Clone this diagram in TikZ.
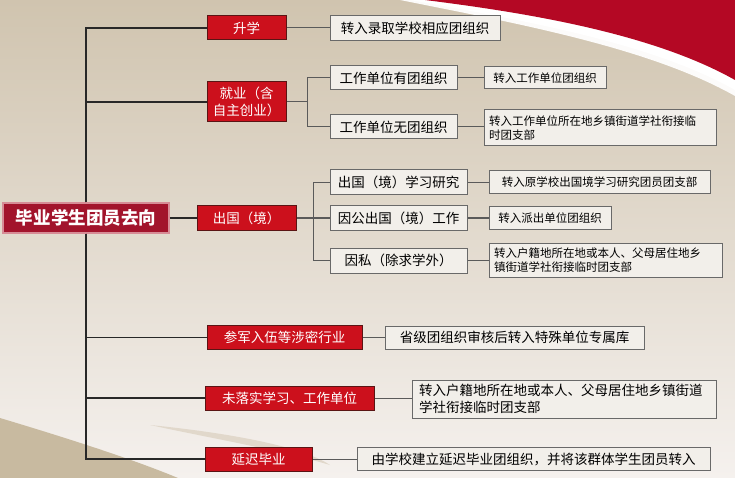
\documentclass[tikz,border=0pt]{standalone}
\usepackage{fontspec}
\newfontfamily\cjk{Noto Sans CJK SC}
\definecolor{bgtop}{RGB}{208,196,175}
\definecolor{bgmid}{RGB}{236,231,223}
\definecolor{bgbot}{RGB}{245,241,238}
\definecolor{swred}{RGB}{180,8,36}
\definecolor{boxred}{RGB}{204,16,28}
\definecolor{rootred}{RGB}{162,20,44}
\definecolor{boxgray}{RGB}{242,239,234}
\definecolor{swbeige}{RGB}{200,186,160}
\tikzset{
  base/.style={inner sep=0pt,font=\cjk\fontsize{13.5}{16.5}\selectfont},
  rootbox/.style={base,fill=rootred,draw={rgb,255:red,214;green,140;blue,150},line width=1.2pt,text=white,
    minimum width=166,minimum height=30,font=\cjk\bfseries\fontsize{17.5}{20}\selectfont},
  redbox/.style={base,fill=boxred,draw={rgb,255:red,90;green,20;blue,20},line width=1pt,text=white,minimum height=24},
  graybox/.style={base,fill=boxgray,draw={rgb,255:red,105;green,105;blue,105},line width=1pt,minimum height=24},
  smallbox/.style={graybox,font=\cjk\fontsize{11.5}{14}\selectfont,minimum height=22},
  trunk/.style={draw={rgb,255:red,40;green,40;blue,40},line width=1.3pt},
  twig/.style={draw={rgb,255:red,90;green,90;blue,90},line width=1pt}
}
\begin{document}
\begin{tikzpicture}[x=1pt,y=-1pt]
\useasboundingbox (0,0) rectangle (735,478);
% background
\shade[top color=bgtop,middle color=bgmid,bottom color=bgbot] (0,0) rectangle (735,478);
\fill[white!85!bgmid] (400,0) .. controls (520,24) and (650,48) .. (735,96) -- (735,0) -- cycle;
\fill[white] (410,0) .. controls (520,20) and (650,42) .. (735,90) -- (735,0) -- cycle;
\fill[swred] (425,0) .. controls (520,12) and (650,32) .. (735,80) -- (735,0) -- cycle;
\fill[swbeige] (0,418) .. controls (60,436) and (130,458) .. (178,478) -- (0,478) -- cycle;
\fill[swbeige!45!bgbot] (150,425) .. controls (220,432) and (300,445) .. (330,465) .. controls (280,450) and (210,438) .. (150,425) -- cycle;
% level 1
\node[rootbox] (root) at (86,218) {毕业学生团员去向};
\node[redbox,minimum width=79] (shengxue) at (246.5,28) {升学};
\node[redbox,minimum width=79,minimum height=40,align=center] (jiuye) at (246.5,102) {就业（含\\自主创业）};
\node[redbox,minimum width=99,minimum height=25] (chuguo) at (246.5,218) {出国（境）};
\node[redbox,minimum width=155] (canjun) at (284.5,337.5) {参军入伍等涉密行业};
\node[redbox,minimum width=169] (weiluoshi) at (289.5,398) {未落实学习、工作单位};
\node[redbox,minimum width=107] (yanchi) at (258.5,459) {延迟毕业};
% level 2
\node[graybox,minimum width=170,minimum height=25] (luqu) at (415,28) {转入录取学校相应团组织};
\node[graybox,minimum width=127] (youtuan) at (393.5,78) {工作单位有团组织};
\node[graybox,minimum width=127] (wutuan) at (393.5,127) {工作单位无团组织};
\node[graybox,minimum width=137,minimum height=25] (xuexi) at (398.5,182.5) {出国（境）学习研究};
\node[graybox,minimum width=137] (yingong) at (398.5,218) {因公出国（境）工作};
\node[graybox,minimum width=137,minimum height=25] (yinsi) at (398.5,260.5) {因私（除求学外）};
\node[graybox,minimum width=259,minimum height=23] (shengji) at (514.5,337.5) {省级团组织审核后转入特殊单位专属库};
\node[graybox,minimum width=304,minimum height=38,text width=290,align=left] (hujidi) at (564,399) {转入户籍地所在地或本人、父母居住地乡镇街道\\学社衔接临时团支部};
\node[graybox,minimum width=353,minimum height=23] (jianli) at (533.5,459) {由学校建立延迟毕业团组织，并将该群体学生团员转入};
% level 3
\node[smallbox,minimum width=122] (danwei) at (545,78) {转入工作单位团组织};
\node[smallbox,minimum width=232,minimum height=36,text width=222,align=left] (xiangzhen) at (600,128) {转入工作单位所在地乡镇街道学社衔接临\\时团支部};
\node[smallbox,minimum width=221,minimum height=23] (yuanxuexiao) at (599.5,182.5) {转入原学校出国境学习研究团员团支部};
\node[smallbox,minimum width=122] (paichu) at (550,218) {转入派出单位团组织};
\node[smallbox,minimum width=233,minimum height=34,text width=223,align=left] (huji) at (605.5,260) {转入户籍地所在地或本人、父母居住地乡\\镇街道学社衔接临时团支部};
% connectors
\coordinate (jyfork) at (307,102);
\coordinate (cgfork) at (313,218);
\begin{scope}[trunk]
\draw (root.north) |- (shengxue.west);
\draw (root.north) |- (jiuye.west);
\draw (root.south) |- (canjun.west);
\draw (root.south) |- (weiluoshi.west);
\draw (root.south) |- (yanchi.west);
\draw (root.east) -- (chuguo.west);
\end{scope}
\begin{scope}[twig]
\draw (shengxue.east) -- (luqu.west);
\draw (jiuye.east) -- (jyfork);
\draw (jyfork) |- (youtuan.west);
\draw (jyfork) |- (wutuan.west);
\draw (chuguo.east) -- (cgfork);
\draw (cgfork) |- (xuexi.west);
\draw (cgfork) |- (yingong.west);
\draw (cgfork) |- (yinsi.west);
\draw (youtuan.east) -- (danwei.west);
\draw (wutuan.east) -- (wutuan.east -| xiangzhen.west);
\draw (xuexi.east) -- (yuanxuexiao.west);
\draw (yingong.east) -- (paichu.west);
\draw (yinsi.east) -- (yinsi.east -| huji.west);
\draw (canjun.east) -- (shengji.west);
\draw (weiluoshi.east) -- (weiluoshi.east -| hujidi.west);
\draw (yanchi.east) -- (jianli.west);
\end{scope}
\end{tikzpicture}
\end{document}
